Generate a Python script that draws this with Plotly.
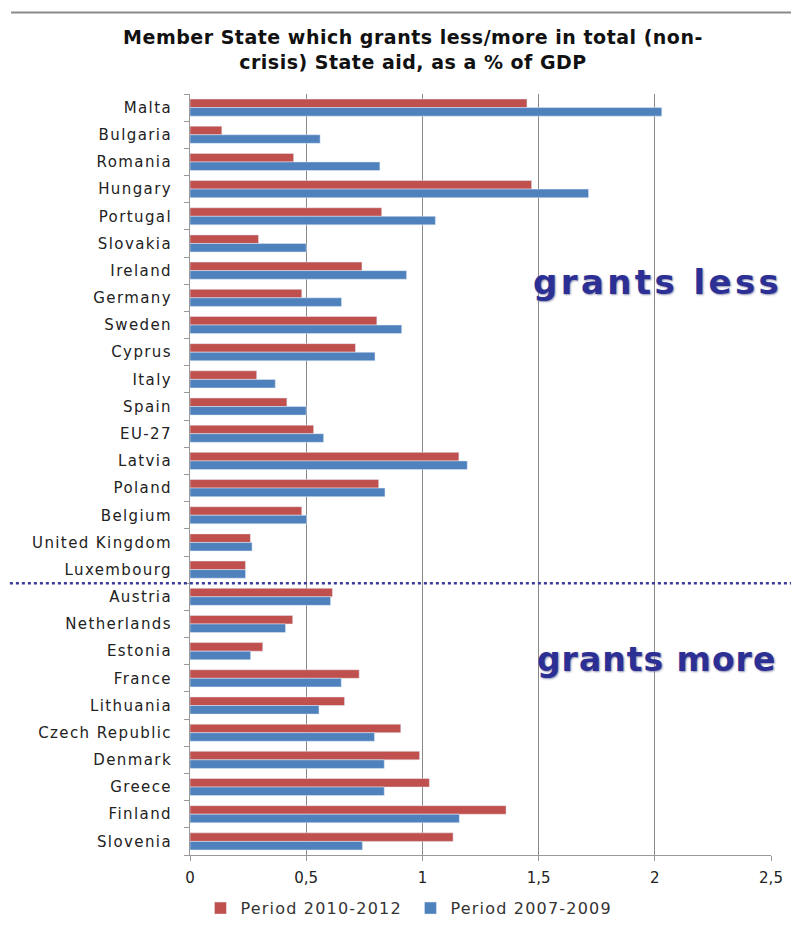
import plotly.graph_objects as go

countries = ["Malta", "Bulgaria", "Romania", "Hungary", "Portugal", "Slovakia", "Ireland",
             "Germany", "Sweden", "Cyprus", "Italy", "Spain", "EU-27", "Latvia", "Poland",
             "Belgium", "United Kingdom", "Luxembourg", "Austria", "Netherlands", "Estonia",
             "France", "Lithuania", "Czech Republic", "Denmark", "Greece", "Finland", "Slovenia"]
period_2010_2012 = [1.45, 0.137, 0.446, 1.47, 0.825, 0.295, 0.74, 0.481, 0.804, 0.712, 0.287,
                    0.417, 0.532, 1.157, 0.812, 0.481, 0.26, 0.239, 0.613, 0.442, 0.313, 0.728,
                    0.665, 0.907, 0.988, 1.03, 1.36, 1.132]
period_2007_2009 = [2.03, 0.56, 0.817, 1.715, 1.056, 0.50, 0.932, 0.652, 0.911, 0.796, 0.367,
                    0.50, 0.575, 1.193, 0.839, 0.502, 0.267, 0.239, 0.605, 0.411, 0.261, 0.651,
                    0.555, 0.794, 0.836, 0.836, 1.159, 0.742]
x_ticks = [0, 0.5, 1, 1.5, 2, 2.5]
x_tick_labels = ["0", "0,5", "1", "1,5", "2", "2,5"]

FONT = "DejaVu Sans, Verdana, sans-serif"


def spaced(text, px):
    return f'<span style="letter-spacing:{px}px">{text}</span>'


fig = go.Figure()
fig.add_trace(go.Bar(y=countries, x=period_2010_2012, orientation="h",
                     name=spaced("Period 2010-2012", 1.2), marker_color="#c0504d"))
fig.add_trace(go.Bar(y=countries, x=period_2007_2009, orientation="h",
                     name=spaced("Period 2007-2009", 1.2), marker_color="#4f81bd"))

fig.update_layout(
    width=791, height=929,
    paper_bgcolor="white", plot_bgcolor="white",
    barmode="group", bargap=0.37, bargroupgap=0,
    margin=dict(l=182, r=28, t=86, b=48),
    font=dict(family=FONT, size=14, color="#222222"),
    title=dict(text=spaced("Member State which grants less/more in total (non-", 0.5) + "<br>"
               + spaced("crisis) State aid, as a % of GDP", 0.5),
               x=0.512, xanchor="center", y=0.961, yanchor="top",
               font=dict(family=FONT, size=19, color="#111111", weight="bold")),
    legend=dict(orientation="h", x=0.018, xanchor="left", y=-0.0475, yanchor="top",
                font=dict(family=FONT, size=16, color="#333333"), itemwidth=30,
                entrywidth=165, entrywidthmode="pixels",
                traceorder="normal", tracegroupgap=0),
    showlegend=True,
)
fig.update_xaxes(range=[0, 2.5], tickvals=x_ticks, ticktext=x_tick_labels,
                 showgrid=True, gridcolor="#888888", gridwidth=1,
                 showline=True, linecolor="#999999", ticks="outside", ticklen=5,
                 tickcolor="#999999", zeroline=False, automargin=False, ticklabelstandoff=4,
                 tickfont=dict(family=FONT, size=15, color="#222222"))
fig.update_yaxes(autorange="reversed", showline=True, linecolor="#999999",
                 tickvals=countries, ticktext=[spaced(c, 1.4) for c in countries],
                 ticks="outside", ticklen=5, tickcolor="#999999", tickson="boundaries",
                 showgrid=False, automargin=False, ticklabelstandoff=14,
                 tickfont=dict(family=FONT, size=15, color="#222222"))

# frame line at top
fig.add_shape(type="line", xref="paper", yref="paper", x0=-0.308, x1=1.06, y0=1.107, y1=1.107,
              line=dict(color="#8a8a8a", width=2))
# dotted separator
fig.add_shape(type="line", xref="paper", yref="y", x0=-0.31, x1=1.05, y0=17.5, y1=17.5,
              line=dict(color="#3b3b9b", width=2.5, dash="dot"))

fig.add_annotation(x=2.013, y=6.4, xref="x", yref="y",
                   text=spaced("grants less", 3.4), showarrow=False,
                   font=dict(family=FONT, size=34, color="#2c2f93",
                             weight="bold", shadow="1px 1px 2px #9090b0"))
fig.add_annotation(x=2.009, y=20.3, xref="x", yref="y",
                   text=spaced("grants more", 1), showarrow=False,
                   font=dict(family=FONT, size=33, color="#2c2f93",
                             weight="bold", shadow="1px 1px 2px #9090b0"))

fig.write_html("out.html")
